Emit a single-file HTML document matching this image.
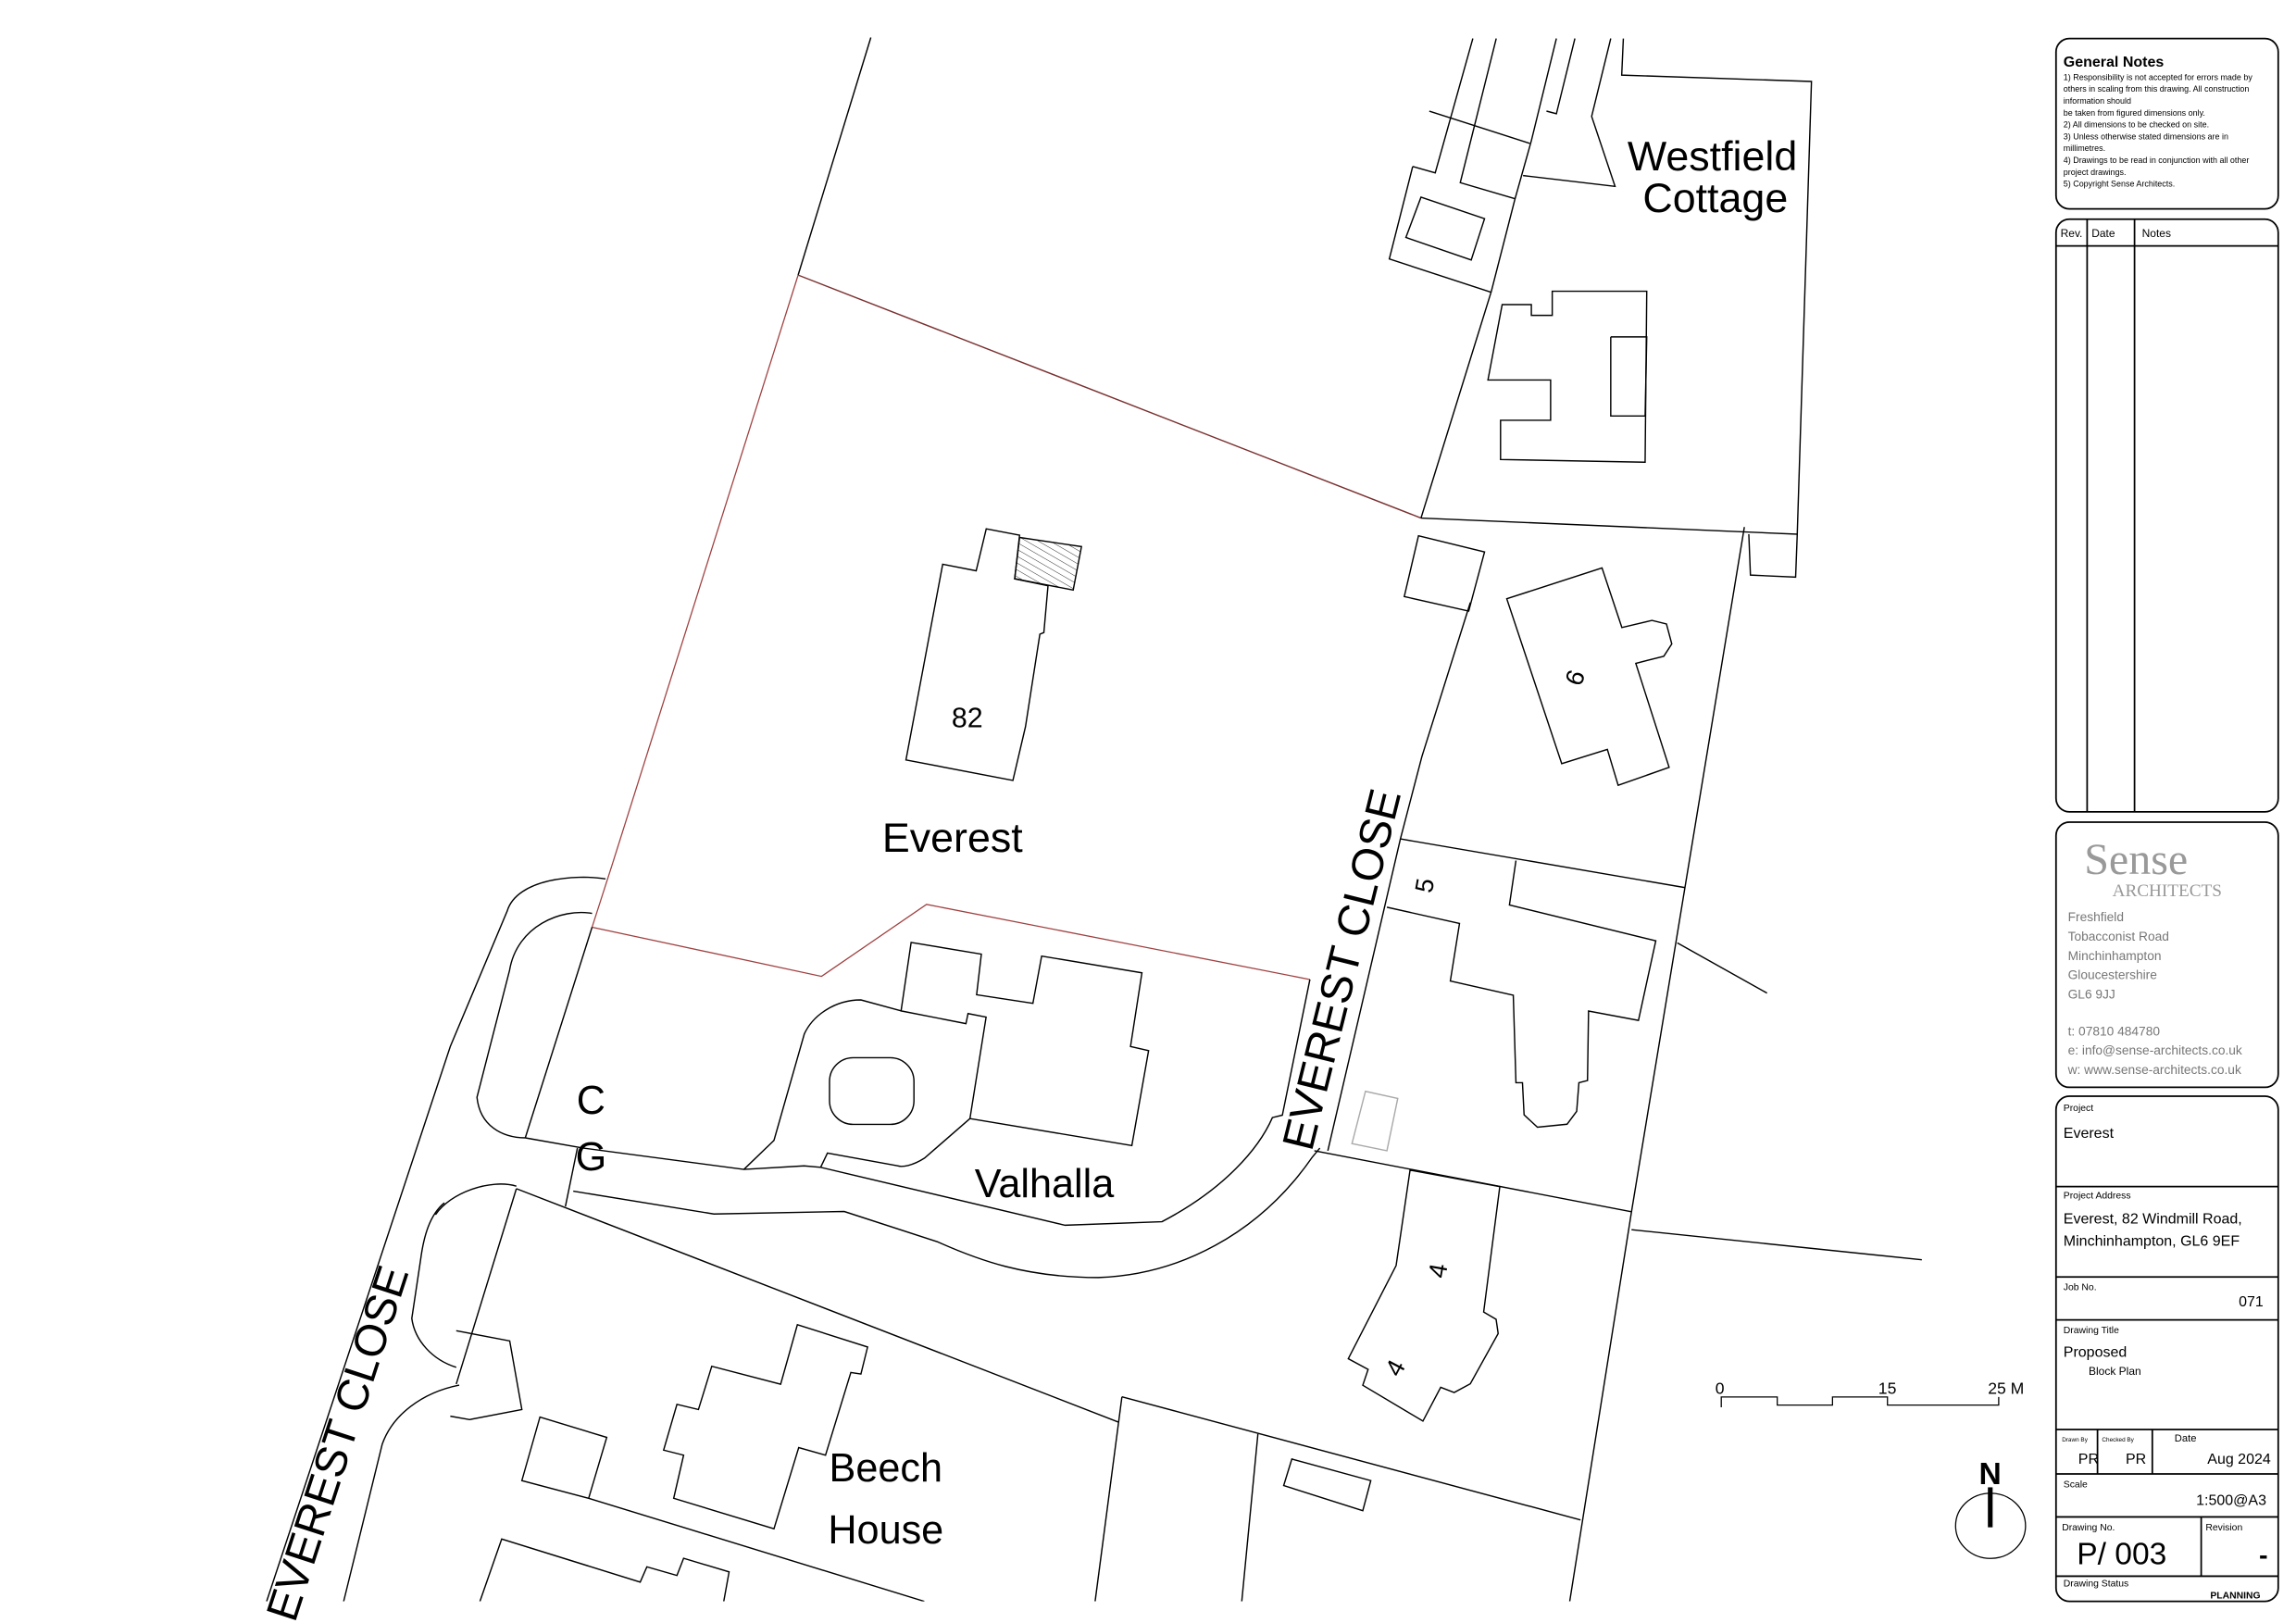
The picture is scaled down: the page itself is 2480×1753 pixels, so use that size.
<!DOCTYPE html>
<html><head><meta charset="utf-8"><style>html,body{margin:0;padding:0;background:#fff}svg{display:block}</style></head>
<body>
<svg xmlns="http://www.w3.org/2000/svg" width="2480" height="1753" viewBox="0 0 1550 1095.6" preserveAspectRatio="none" font-family="Liberation Sans, sans-serif">
<rect width="1550" height="1096" fill="#fff"/>
<defs><pattern id="h" width="4" height="4" patternUnits="userSpaceOnUse" patternTransform="rotate(-60)"><line x1="0" y1="0" x2="0" y2="4" stroke="#000" stroke-width="0.5"/></pattern>
<clipPath id="c"><rect x="0" y="20" width="1380" height="1061"/></clipPath></defs>
<g clip-path="url(#c)" fill="none" stroke="#000" stroke-width="0.9">
<g transform="translate(4,0)">
<polyline points="583.9,25.3 534.8,185.7"/>
<polyline points="534.8,185.7 955.3,349.7" stroke="#7a3030"/>
<polyline points="534.8,185.7 408.9,584.9" stroke="#a04040" stroke-width="0.8"/>
<polyline points="955.3,349.7 1002.8,196.6 1018.6,134.9 1029.8,95 1046.7,26"/>
<polyline points="949.7,112.4 933.9,174.8 1002.7,197.3"/>
<polyline points="949.7,112.4 964.9,116.7 990.3,26"/>
<polyline points="1018.6,134.1 981.8,123.3 1006.1,26"/>
<polygon points="955.3,133.1 998.2,147.6 989.2,175.5 945.1,160.3"/>
<polyline points="960.9,75 1028.7,96.8"/>
<polyline points="1024.2,118.5 1086.3,125.8 1070.5,78.6 1083.4,26"/>
<polyline points="1040,75 1046.7,76.8 1059.2,26"/>
<polyline points="1091.9,26 1090.8,50.7 1218.9,55 1209.3,360.6 955.3,349.7"/>
<polyline points="1176.6,360.6 1177.7,388.2 1208.2,389.6 1209.3,360.6"/>
<polygon points="1010.1,205.6 1029.8,205.6 1029.8,212.9 1043.9,212.9 1043.9,196.6 1107.7,196.6 1106.6,312 1009,310.2 1009,283.7 1042.8,283.7 1042.8,256.5 1000.5,256.5"/>
<polyline points="1083.4,227.4 1107.7,227.4 1106.6,280.8 1083.4,280.8 1083.4,227.4"/>
<polygon points="632.4,380.9 655,385.3 661.8,357 684.3,361.3 681,390.7 703.5,395.4 700.7,427 698,428.1 688.3,490.5 679.8,526.8 607.6,513"/>
<polygon points="684.3,362.8 726.1,369 720.5,398.3 681,390.7" fill="url(#h)"/>
<polygon points="953.6,361.7 998.2,372.6 987.5,412.5 944,402.7"/>
</g>
<g transform="translate(4,0)">
<polyline points="408.9,584.9 395.7,625.9 550.6,659.1 621.5,610.5 880.3,661.2" stroke="#a04040" stroke-width="0.8"/>
<polyline points="395.7,625.9 350.6,768.1"/>
<polyline points="385.8,775 377.7,814.4"/>
<path d="M404.8,593.3 C385,590 345,593 338.4,615 L300,706.4 L176,1081"/>
<path d="M395.7,616.6 C375,613 345,625 340,655 L318,740.7 C320,760 335,768 350.6,768.1"/>
<polyline points="350.6,768.1 389.8,775 498.2,789.4 538.8,787 550,788"/>
<path d="M498.2,789.4 L518.5,769.8 L539,697.9 C545,685 560,675 577.2,675 L604.3,682.4"/>
<polygon points="604.3,682.4 611.1,636.2 658.5,644.1 655.3,671.5 693.3,677.3 699.2,645.4 766.9,656.7 759.2,706.4 771.4,709.2 760.1,773.3 650.8,755.1 661.7,686.6 649.5,684.2 648.1,691"/>
<rect x="556" y="714" width="57" height="45" rx="16"/>
<path d="M650.8,755.1 L620.1,781.8 C612,787 605,788 602,787 L554.6,778.4 L550,788"/>
<path d="M550,788 L715,827.1 L780.4,824.7 C823,802.4 846,775 855,754.4 L861.7,752.8 L880.3,661.2"/>
<path d="M383,804.1 L477.9,819.5 L565.9,817.8 L629.2,838.4 C656,850.4 687.9,862.4 737.5,862.4 C791.7,860.7 845.9,833.2 882,781 L887,775"/>
<polyline points="344.6,802.4 751.1,960"/>
<polyline points="753.4,942.9 735.3,1081"/>
<polyline points="753.4,942.9 1063,1026"/>
<polyline points="344.6,802.4 304,934.3"/>
<path d="M290,820 C300,805 327,795.6 344.6,800.7"/>
<polyline points="304,898.3 340.1,905.2 348.3,951.5 313,958.3 300,956"/>
<polygon points="360.5,956.6 405.6,970.3 393.4,1011.4 348.3,999.5"/>
<polyline points="393.4,1011.4 620,1081"/>
<polygon points="534.3,894.2 581.7,909.3 577.2,927.5 570.4,926.5 553.3,982.3 535.2,977.2 518.5,1032 450.8,1011.4 457.5,982.3 444,978.9 453,948 467.5,951.5 476.5,922.3 523,934.4"/>
<polyline points="320,1081 334.7,1038.9 428.2,1068 432.7,1057.7 453,1063.5 457.5,1051.9 488.2,1061.1 484.6,1081"/>
</g>
<path d="M300,812 C290,820 286,835 284,850 L278,890 C280,905 292,918 308,923"/>
<path d="M310,935 C285,940 265,955 258,975 L232,1081"/>
<g transform="translate(9.5,0)">
<path d="M983.1,406.7 L950.4,510.7 L935.9,566.3 L886.9,776.8"/>
<polygon points="1007.7,404.2 1072,383.4 1085.4,423.6 1105.7,418.8 1115.5,421.2 1119.1,434.7 1113.7,443 1094.8,447.8 1117.3,518 1082.9,530.1 1075.6,505.9 1044.8,515.5"/>
<polyline points="1168.1,355.8 1091.9,818 1050.2,1081"/>
<polyline points="935.9,566.3 1128.2,599.2"/>
<polyline points="1013.9,580.9 1009.5,610.9 1108.3,635.1 1096.6,688.8 1062.9,682.5 1062.2,729.4 1056.4,730.9 1054.9,750.2 1048.4,758.9 1028.4,760.9 1019.4,752.6 1018.3,730.9 1013.9,730.9 1012.1,671.8 969.6,662.2 975.8,623.4 926.8,612.4"/>
<polyline points="1122.8,636.5 1183.4,670.4"/>
<polygon points="912.3,736.7 934.1,741.5 926.8,776.8 903.2,772" stroke="#aaa"/>
<polyline points="877.8,776.8 1091.9,818"/>
<polyline points="1091.9,830.1 1287.9,850.4"/>
<polygon points="942.4,789.9 933,854.3 900.7,917.2 914.1,924.4 910.5,935.1 951.1,959.3 963.1,936.5 972.2,940 983.1,934.1 1001.9,900.2 1000.5,890.6 992.1,885.7 1003,801"/>
<polyline points="839.7,968 828.8,1081"/>
<polygon points="862.6,984.9 915.9,999.5 910.5,1019.8 857.1,1002.8"/>
</g>
</g>
<g fill="none" stroke="#000" stroke-width="0.8">
<polyline points="1162,950 1162,943 1199.8,943 1199.8,948.5 1237.1,948.5 1237.1,943 1274.2,943 1274.2,948.5 1349.3,948.5 1349.3,943"/>
<ellipse cx="1343.8" cy="1030" rx="23.6" ry="22"/>
</g>
<rect x="1342" y="1004" width="3.2" height="27" fill="#000"/>
<g font-size="11" fill="#000"><text x="1158" y="941">0</text><text x="1268" y="941">15</text><text x="1342" y="941">25 M</text></g>
<text x="1343.5" y="1002" font-size="21" font-weight="bold" text-anchor="middle">N</text>
<g fill="#000">
<text x="1156" y="115" font-size="28" text-anchor="middle">Westfield</text>
<text x="1158" y="143" font-size="28" text-anchor="middle">Cottage</text>
<text x="653" y="491" font-size="19" text-anchor="middle">82</text>
<text x="643" y="575" font-size="28" text-anchor="middle">Everest</text>
<text x="705" y="808" font-size="27" text-anchor="middle">Valhalla</text>
<text x="598" y="1000" font-size="27" text-anchor="middle">Beech</text>
<text x="598" y="1042" font-size="27" text-anchor="middle">House</text>
<text x="399" y="752" font-size="27" text-anchor="middle">C</text>
<text x="399" y="790" font-size="27" text-anchor="middle">G</text>
<text transform="translate(908,655) rotate(-76)" font-size="30" text-anchor="middle" dominant-baseline="middle">EVEREST CLOSE</text>
<text transform="translate(230,975) rotate(-72)" font-size="30" text-anchor="middle" dominant-baseline="middle">EVEREST CLOSE</text>
<text transform="translate(1062,457) rotate(110)" font-size="17" text-anchor="middle" dominant-baseline="middle">9</text>
<text transform="translate(963,598) rotate(-80)" font-size="17" text-anchor="middle" dominant-baseline="middle">5</text>
<text transform="translate(972,858) rotate(-80)" font-size="17" text-anchor="middle" dominant-baseline="middle">4</text>
<text transform="translate(943,924) rotate(-62)" font-size="17" text-anchor="middle" dominant-baseline="middle">4</text>
</g>
<g fill="none" stroke="#000" stroke-width="1.1">
<rect x="1388" y="26" width="150" height="115" rx="9"/>
<rect x="1388" y="148" width="150" height="400" rx="9"/>
<line x1="1388" y1="166" x2="1538" y2="166"/>
<line x1="1409" y1="148" x2="1409" y2="548"/>
<line x1="1441" y1="148" x2="1441" y2="548"/>
<rect x="1388" y="555" width="150" height="179" rx="9"/>
<rect x="1388" y="740" width="150" height="341" rx="9"/>
<line x1="1388" y1="801" x2="1538" y2="801"/>
<line x1="1388" y1="862" x2="1538" y2="862"/>
<line x1="1388" y1="891" x2="1538" y2="891"/>
<line x1="1388" y1="965" x2="1538" y2="965"/>
<line x1="1388" y1="995" x2="1538" y2="995"/>
<line x1="1388" y1="1024" x2="1538" y2="1024"/>
<line x1="1388" y1="1064" x2="1538" y2="1064"/>
<line x1="1416" y1="965" x2="1416" y2="995"/>
<line x1="1453" y1="965" x2="1453" y2="995"/>
<line x1="1486" y1="1024" x2="1486" y2="1064"/>
</g>
<g fill="#000" font-family="Liberation Sans, DejaVu Sans, sans-serif">
<text x="1393" y="45" font-size="10" font-weight="bold">General Notes</text>
<g font-size="5.6">
<text x="1393" y="54">1) Responsibility is not accepted for errors made by</text>
<text x="1393" y="62">others in scaling from this drawing. All construction</text>
<text x="1393" y="70">information should</text>
<text x="1393" y="78">be taken from figured dimensions only.</text>
<text x="1393" y="86">2) All dimensions to be checked on site.</text>
<text x="1393" y="94">3) Unless otherwise stated dimensions are in</text>
<text x="1393" y="102">millimetres.</text>
<text x="1393" y="110">4) Drawings to be read in conjunction with all other</text>
<text x="1393" y="118">project drawings.</text>
<text x="1393" y="126">5) Copyright Sense Architects.</text>
</g>
<text x="1391" y="160" font-size="7.5">Rev.</text><text x="1412" y="160" font-size="7.5">Date</text><text x="1446" y="160" font-size="7.5">Notes</text>
<text x="1407" y="590" font-size="30" fill="#999" font-family="Liberation Serif, serif">Sense</text>
<text x="1426" y="605" font-size="12" fill="#999" font-family="Liberation Serif, serif">ARCHITECTS</text>
<g font-size="8.6" fill="#777">
<text x="1396" y="622">Freshfield</text><text x="1396" y="635">Tobacconist Road</text><text x="1396" y="648">Minchinhampton</text><text x="1396" y="661">Gloucestershire</text><text x="1396" y="674">GL6 9JJ</text>
<text x="1396" y="699">t:  07810 484780</text><text x="1396" y="712">e: info@sense-architects.co.uk</text><text x="1396" y="725">w: www.sense-architects.co.uk</text>
</g>
<text x="1393" y="750" font-size="6.5">Project</text>
<text x="1393" y="768" font-size="10">Everest</text>
<text x="1393" y="809" font-size="6.5">Project Address</text>
<text x="1393" y="826" font-size="10">Everest, 82 Windmill Road,</text>
<text x="1393" y="841" font-size="10">Minchinhampton, GL6 9EF</text>
<text x="1393" y="871" font-size="6.5">Job No.</text>
<text x="1528" y="882" font-size="10" text-anchor="end">071</text>
<text x="1393" y="900" font-size="6.5">Drawing Title</text>
<text x="1393" y="916" font-size="10">Proposed</text>
<text x="1410" y="928" font-size="7.5">Block Plan</text>
<text x="1392" y="973" font-size="4">Drawn By</text>
<text x="1419" y="973" font-size="4">Checked By</text>
<text x="1468" y="973" font-size="7">Date</text>
<text x="1403" y="988" font-size="10">PR</text>
<text x="1435" y="988" font-size="10">PR</text>
<text x="1533" y="988" font-size="10" text-anchor="end">Aug 2024</text>
<text x="1393" y="1004" font-size="6.5">Scale</text>
<text x="1530" y="1016" font-size="10" text-anchor="end">1:500@A3</text>
<text x="1392" y="1033" font-size="6.5">Drawing No.</text>
<text x="1489" y="1033" font-size="6.5">Revision</text>
<text x="1402" y="1056" font-size="21">P/ 003</text>
<text x="1531" y="1056" font-size="18" font-weight="bold" text-anchor="end">-</text>
<text x="1393" y="1071" font-size="6.5">Drawing Status</text>
<text x="1526" y="1079" font-size="6.5" font-weight="bold" text-anchor="end">PLANNING</text>
</g>
</svg>
</body></html>
